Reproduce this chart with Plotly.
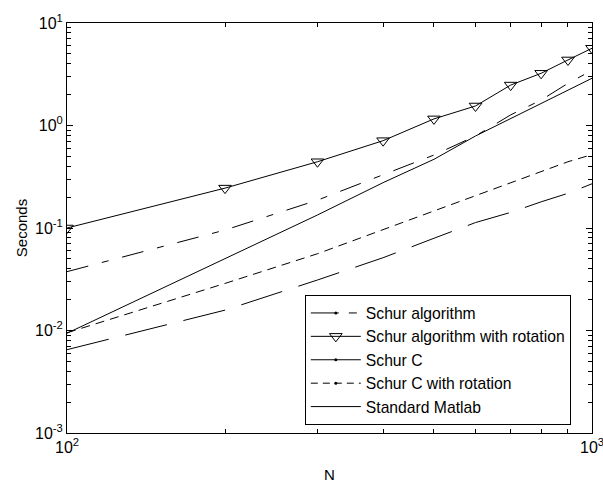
import plotly.graph_objects as go

N = [100, 200, 300, 400, 500, 600, 700, 800, 900, 1000]
schur_alg = [0.0375, 0.0955, 0.187, 0.329, 0.515, 0.79, 1.27, 1.77, 2.58, 3.45]
schur_alg_rot = [0.1, 0.245, 0.443, 0.711, 1.16, 1.55, 2.48, 3.23, 4.36, 5.67]
schur_c = [0.0065, 0.0158, 0.0311, 0.0513, 0.0794, 0.113, 0.142, 0.18, 0.218, 0.27]
schur_c_rot = [0.0095, 0.0288, 0.0561, 0.0967, 0.147, 0.208, 0.277, 0.355, 0.443, 0.52]
std_matlab = [0.0094, 0.050, 0.134, 0.277, 0.468, 0.79, 1.17, 1.64, 2.22, 2.89]

legend_names = ["Schur algorithm", "Schur algorithm with rotation", "Schur C",
                "Schur C with rotation", "Standard Matlab"]

x_major = [100, 1000]
x_major_text = ["10<sup>2</sup>", "10<sup>3</sup>"]
x_minor = [200, 300, 400, 500, 600, 700, 800, 900]
y_major = [0.001, 0.01, 0.1, 1, 10]
y_major_text = ["10<sup>-3</sup>", "10<sup>-2</sup>", "10<sup>-1</sup>", "10<sup>0</sup>", "10<sup>1</sup>"]
y_minor = [m * 10 ** e for e in range(-3, 1) for m in range(2, 10)]

FONT = "Arial, Liberation Sans, Helvetica, sans-serif"
K = "black"

fig = go.Figure()

# data lines (no legend)
fig.add_trace(go.Scatter(x=N, y=schur_alg, mode="lines", showlegend=False,
                         line=dict(color=K, width=1, dash="22px,14px,7px,14px")))
fig.add_trace(go.Scatter(x=N, y=schur_alg_rot, mode="lines+markers", showlegend=False,
                         line=dict(color=K, width=1),
                         marker=dict(symbol="triangle-down-open", size=11,
                                     color=K, line=dict(color=K, width=1))))
fig.add_trace(go.Scatter(x=N, y=schur_c, mode="lines", showlegend=False,
                         line=dict(color=K, width=1, dash="43px,17px")))
fig.add_trace(go.Scatter(x=N, y=schur_c_rot, mode="lines", showlegend=False,
                         line=dict(color=K, width=1, dash="9px,6px")))
fig.add_trace(go.Scatter(x=N, y=std_matlab, mode="lines", showlegend=False,
                         line=dict(color=K, width=1)))

# legend entries
leg_styles = [
    dict(mode="lines+markers", line=dict(color=K, width=1, dash="28px,10px,8px,10px"),
         marker=dict(symbol="circle", size=3, color=K)),
    dict(mode="lines+markers", line=dict(color=K, width=1),
         marker=dict(symbol="triangle-down-open", size=11, color=K, line=dict(color=K, width=1))),
    dict(mode="lines+markers", line=dict(color=K, width=1),
         marker=dict(symbol="circle", size=3, color=K)),
    dict(mode="lines+markers", line=dict(color=K, width=1, dash="7px,5px"),
         marker=dict(symbol="circle", size=3, color=K)),
    dict(mode="lines", line=dict(color=K, width=1)),
]
for name, st in zip(legend_names, leg_styles):
    fig.add_trace(go.Scatter(x=[None], y=[None], name=name, showlegend=True, **st))

axis_common = dict(
    showline=True, linecolor=K, linewidth=1, mirror="ticks",
    ticks="inside", ticklen=6, tickwidth=1, tickcolor=K,
    showgrid=False, zeroline=False, ticklabeloverflow="allow", automargin=False,
    tickfont=dict(family=FONT, size=16, color=K),
)

fig.update_xaxes(type="log", range=[2, 3], tickmode="array",
                 tickvals=x_major, ticktext=x_major_text,
                 minor=dict(tickmode="array", tickvals=x_minor, ticks="inside",
                            ticklen=4, tickcolor=K, showgrid=False),
                 title=dict(text="N", font=dict(family=FONT, size=15, color=K), standoff=16),
                 **axis_common)
fig.update_yaxes(type="log", range=[-3, 1], tickmode="array",
                 tickvals=y_major, ticktext=y_major_text,
                 minor=dict(tickmode="array", tickvals=y_minor, ticks="inside",
                            ticklen=4, tickcolor=K, showgrid=False),
                 title=dict(text="Seconds", font=dict(family=FONT, size=15, color=K), standoff=3),
                 **axis_common)

fig.update_layout(
    width=603, height=483,
    margin=dict(l=67, r=11, t=23, b=50),
    paper_bgcolor="white", plot_bgcolor="white",
    font=dict(family=FONT, size=16, color=K),
    legend=dict(x=0.453, y=0.336, xanchor="left", yanchor="top",
                bgcolor="white", bordercolor=K, borderwidth=1,
                font=dict(family=FONT, size=15.7, color=K),
                itemwidth=50, tracegroupgap=0),
)

fig.write_html("out.html")
